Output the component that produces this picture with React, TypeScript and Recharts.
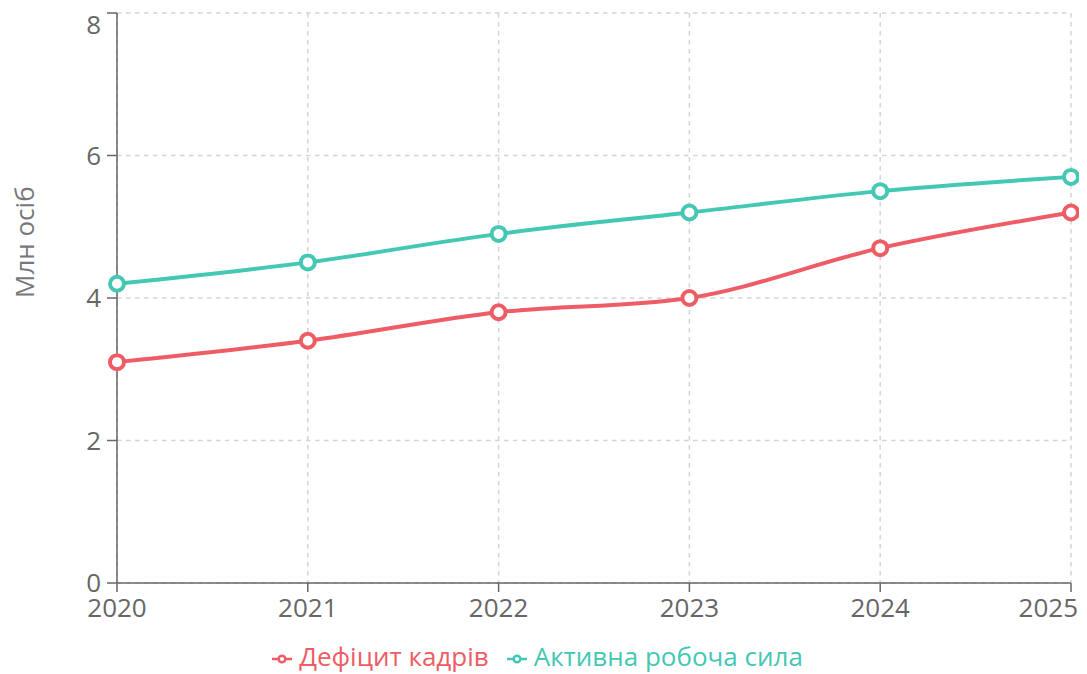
import React from 'react';
import {
  LineChart,
  Line,
  XAxis,
  YAxis,
  CartesianGrid,
  Legend,
} from 'recharts';

// Years on the horizontal axis
const years = ['2020', '2021', '2022', '2023', '2024', '2025'];
// Labour shortage, million people
const shortage = [3.1, 3.4, 3.8, 4.0, 4.7, 5.2];
// Active labour force, million people
const workforce = [4.2, 4.5, 4.9, 5.2, 5.5, 5.7];
// Value axis ticks
const yTicks = [0, 2, 4, 6, 8];

const data = years.map((year, i) => ({
  year,
  shortage: shortage[i],
  workforce: workforce[i],
}));

const RED = '#ee5c65';
const TEAL = '#44c7b3';
const AXIS = '#666';
const FONT = 26;

// Spacing of the legend entries
const legendCss = `
.recharts-legend-item { margin-right: 18px !important; }
.recharts-legend-item:last-child { margin-right: 4px !important; }
.recharts-legend-item .recharts-surface { margin-right: 7px !important; }
`;

// Year labels; the last one is right-aligned so it stays inside the chart
const YearTick = (props: any) => {
  const { x, y, payload, index } = props;
  const last = index === years.length - 1;
  return (
    <text
      x={last ? x + 7 : x}
      y={y}
      dy={22}
      textAnchor={last ? 'end' : 'middle'}
      fill={AXIS}
      fontSize={FONT}
    >
      {payload.value}
    </text>
  );
};

// Value labels; the top one is pushed down so it stays inside the chart
const ValueTick = (props: any) => {
  const { x, y, payload } = props;
  const top = payload.value === yTicks[yTicks.length - 1];
  return (
    <text
      x={x}
      y={y}
      dy={top ? 17 : 9}
      textAnchor="end"
      fill={AXIS}
      fontSize={FONT}
    >
      {payload.value}
    </text>
  );
};

export default function App() {
  return (
    <div style={{ fontFamily: '"Open Sans", sans-serif' }}>
      <style>{legendCss}</style>
      <LineChart
        width={1079}
        height={666}
        data={data}
        margin={{ top: 5, right: 16, left: 0, bottom: 0 }}
      >
        <CartesianGrid stroke="#d4d4d4" strokeDasharray="4.5 4.5" strokeWidth={1.5} />
        <XAxis
          dataKey="year"
          height={55}
          stroke={AXIS}
          strokeWidth={1.5}
          tickSize={9}
          tickMargin={3}
          tick={<YearTick />}
        />
        <YAxis
          width={109}
          domain={[0, 8]}
          ticks={yTicks}
          stroke={AXIS}
          strokeWidth={1.5}
          tickSize={10}
          tickMargin={6}
          tick={<ValueTick />}
          label={{
            value: 'Млн осіб',
            angle: -90,
            position: 'insideLeft',
            offset: 17,
            fill: '#777',
            fontSize: FONT,
          }}
        />
        <Legend
          iconSize={20}
          itemSorter="dataKey"
          wrapperStyle={{ fontSize: FONT, height: 36, lineHeight: '36px' }}
        />
        <Line
          type="monotone"
          dataKey="shortage"
          name="Дефіцит кадрів"
          stroke={RED}
          strokeWidth={4}
          dot={{ r: 7, strokeWidth: 4, fill: '#fff' }}
          isAnimationActive={false}
        />
        <Line
          type="monotone"
          dataKey="workforce"
          name="Активна робоча сила"
          stroke={TEAL}
          strokeWidth={4}
          dot={{ r: 7, strokeWidth: 4, fill: '#fff' }}
          isAnimationActive={false}
        />
      </LineChart>
    </div>
  );
}
